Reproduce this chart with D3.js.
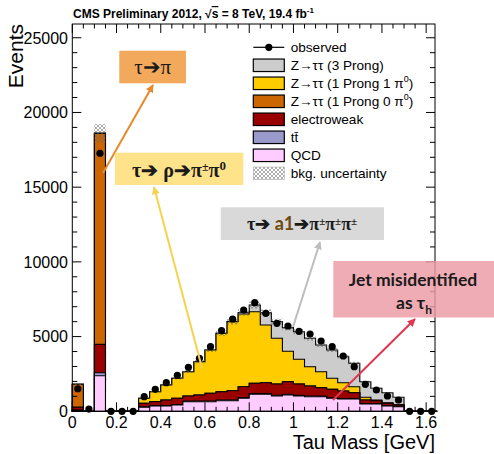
<!DOCTYPE html>
<html><head><meta charset="utf-8">
<script src="https://cdn.jsdelivr.net/npm/d3@7"></script>
<style>body{margin:0;background:#fff}svg{display:block}</style>
</head><body>
<script>
// ---- data ----
const binEdges = [0,0.05,0.1,0.15,0.2,0.25,0.3,0.35,0.4,0.45,0.5,0.55,0.6,0.65,0.7,0.75,0.8,0.85,0.9,0.95,1.0,1.05,1.1,1.15,1.2,1.25,1.3,1.35,1.4,1.45,1.5,1.55,1.6,1.65];
const qcd        = [60,0,2380,0,0,0,267,355,355,420,643,643,643,710,710,870,1138,1138,1024,1091,1024,977,977,870,823,823,489,489,355,308,0,0,0];
const ttbar      = [20,0,200,0,0,0,30,30,35,40,40,45,45,50,50,50,50,50,50,50,45,45,40,40,35,35,25,25,20,20,0,0,0];
const electroweak= [200,0,1900,0,0,0,240,260,366,410,341,403,517,552,619,727,686,726,753,840,758,671,563,562,501,387,242,196,160,92,0,0,0];
const oneProng0  = [1530,0,14120,0,0,0,0,0,0,0,0,0,0,0,0,0,0,0,0,0,0,0,0,0,0,0,0,0,0,0,0,0,0];
const oneProng1  = [0,0,0,0,0,0,333,667,1004,1338,1626,2229,2898,3908,4621,4865,4793,3862,3059,2039,1653,1292,1070,736,555,402,181,50,30,20,0,0,0];
const threeProng = [0,0,0,0,0,0,0,0,0,0,0,0,0,0,0,100,446,824,1114,1580,1848,1901,1788,1895,1741,1566,1044,779,680,497,0,0,0];
const bkgUnc     = [60,0,620,0,0,0,40,50,60,75,90,110,135,170,200,215,235,220,200,185,175,160,145,135,120,105,65,50,40,30,0,0,0];
const observed   = [1510,150,17270,0,0,0,977,1472,1914,2410,2945,3547,4324,5395,6178,6780,7269,6560,5890,5710,5355,5174,4705,4324,3701,2985,1807,1426,1024,756,0,0,0];
const yTicks = [0,5000,10000,15000,20000,25000];
const yTickLabels = ["0","5000","10000","15000","20000","25000"];
const xTicks = [0,0.2,0.4,0.6,0.8,1.0,1.2,1.4,1.6];
const xTickLabels = ["0","0.2","0.4","0.6","0.8","1","1.2","1.4","1.6"];

const W = 494, H = 454;
const svg = d3.select("body").append("svg").attr("width", W).attr("height", H)
  .style("font-family", "'Liberation Sans', Arial, sans-serif");
const L = 72.3, R = 435, T = 24, B = 411.3;
const x = d3.scaleLinear().domain([0, 1.64]).range([L, R]);
const y = d3.scaleLinear().domain([0, 25920]).range([B, T]);

const defs = svg.append("defs");
const hp = defs.append("pattern").attr("id","hatch").attr("patternUnits","userSpaceOnUse").attr("width",4).attr("height",4);
hp.append("path").attr("d","M0,0L4,4M4,0L0,4").attr("stroke","#666").attr("stroke-width",0.55);
function mk(id, col){
  defs.append("marker").attr("id",id).attr("viewBox","0 0 10 10").attr("refX",9).attr("refY",5)
    .attr("markerWidth",4).attr("markerHeight",4).attr("orient","auto-start-reverse")
    .append("path").attr("d","M0,0L10,5L0,10z").attr("fill",col);
}
mk("aO","#E8892A"); mk("aY","#F6D24E"); mk("aG","#BDBDBD"); mk("aR","#E0364F");

// cumulative stacks
const layers = [
  {name:"qcd", vals:qcd, col:"#FFCCFF"},
  {name:"tt", vals:ttbar, col:"#9999CC"},
  {name:"ewk", vals:electroweak, col:"#990000"},
  {name:"p10", vals:oneProng0, col:"#CC6600"},
  {name:"p11", vals:oneProng1, col:"#FFCC00"},
  {name:"p3", vals:threeProng, col:"#CCCCCC"}
];
let cum = qcd.map(() => 0);
layers.forEach(l => { cum = cum.map((c,i) => c + l.vals[i]); l.cum = cum.slice(); });
const total = layers[layers.length-1].cum;

function stepPts(arr){
  const pts = [];
  arr.forEach((v,i) => { pts.push([binEdges[i], v]); pts.push([binEdges[i+1], v]); });
  return pts;
}
const area = d3.area().x(d => x(d[0])).y0(y(0)).y1(d => y(d[1]));
const g = svg.append("g");
layers.slice().reverse().forEach(l => {
  g.append("path").attr("d", area(stepPts(l.cum)))
    .attr("fill", l.col).attr("stroke", "#000").attr("stroke-width", 1.1).attr("stroke-linejoin","miter");
});
// uncertainty hatch
total.forEach((t,i) => {
  if (bkgUnc[i] <= 0) return;
  g.append("rect").attr("x", x(binEdges[i])).attr("width", x(binEdges[i+1]) - x(binEdges[i]))
    .attr("y", y(t + bkgUnc[i])).attr("height", y(t - bkgUnc[i]) - y(t + bkgUnc[i]))
    .attr("fill","url(#hatch)");
});
// observed
observed.forEach((v,i) => {
  const cx = x((binEdges[i] + binEdges[i+1]) / 2);
  const e = Math.sqrt(v);
  if (v > 0) g.append("line").attr("x1",cx).attr("x2",cx).attr("y1",y(v+e)).attr("y2",y(v-e)).attr("stroke","#000").attr("stroke-width",1);
  g.append("circle").attr("cx", cx).attr("cy", y(v)).attr("r", 3.6).attr("fill", "#000");
});

// frame and ticks
const ax = svg.append("g").attr("stroke","#000").attr("stroke-width",1);
ax.append("rect").attr("x",L).attr("y",T).attr("width",R-L).attr("height",B-T).attr("fill","none");
d3.range(0, 26000, 1000).forEach(v => {
  const len = (v % 5000 === 0) ? 9 : 5;
  ax.append("line").attr("x1",L).attr("x2",L+len).attr("y1",y(v)).attr("y2",y(v));
  ax.append("line").attr("x1",R).attr("x2",R-len).attr("y1",y(v)).attr("y2",y(v));
});
d3.range(0, 33).forEach(k => {
  const v = k * 0.05;
  const len = (k % 4 === 0) ? 9 : 4.5;
  ax.append("line").attr("x1",x(v)).attr("x2",x(v)).attr("y1",B).attr("y2",B-len);
  ax.append("line").attr("x1",x(v)).attr("x2",x(v)).attr("y1",T).attr("y2",T+len);
});
yTicks.forEach((v,i) => {
  svg.append("text").attr("x", 68).attr("y", y(v)).attr("dy","0.36em").attr("text-anchor","end")
    .attr("font-size",16).text(yTickLabels[i]);
});
xTicks.forEach((v,i) => {
  svg.append("text").attr("x", x(v)).attr("y", 428).attr("text-anchor","middle")
    .attr("font-size",16).text(xTickLabels[i]);
});
svg.append("text").attr("x", R).attr("y", 449).attr("text-anchor","end").attr("font-size",20).text("Tau Mass [GeV]");
svg.append("text").attr("transform","translate(23,24) rotate(-90)").attr("text-anchor","end").attr("font-size",21).text("Events");

// title
const tt = svg.append("text").attr("x", 73).attr("y", 18).attr("font-size", 12).attr("font-weight","bold");
tt.append("tspan").text("CMS Preliminary 2012, √");
tt.append("tspan").style("text-decoration","overline").text("s");
tt.append("tspan").text(" = 8 TeV, 19.4 fb");
tt.append("tspan").attr("dy",-5).attr("font-size",8).text("-1");

// legend
const leg = svg.append("g");
const lx = 253.3, lw = 31, lh = 12.5, ly0 = 47.3, ldy = 18;
const legItems = [
  {type:"obs", label:["observed"]},
  {col:"#CCCCCC", label:["Z→ττ (3 Prong)"]},
  {col:"#FFCC00", label:["Z→ττ (1 Prong 1 π","0",")"]},
  {col:"#CC6600", label:["Z→ττ (1 Prong 0  π","0",")"]},
  {col:"#990000", label:["electroweak"]},
  {col:"#9999CC", label:["tt̄"]},
  {col:"#FFCCFF", label:["QCD"]},
  {col:"url(#hatch)", label:["bkg. uncertainty"], noStroke:true}
];
legItems.forEach((it,i) => {
  const cy = ly0 + i*ldy;
  if (it.type === "obs") {
    leg.append("line").attr("x1",lx).attr("x2",lx+lw).attr("y1",cy).attr("y2",cy).attr("stroke","#000").attr("stroke-width",1.2);
    leg.append("circle").attr("cx",lx+lw/2).attr("cy",cy).attr("r",3.6).attr("fill","#000");
  } else {
    leg.append("rect").attr("x",lx).attr("y",cy-lh/2).attr("width",lw).attr("height",lh)
      .attr("fill",it.col).attr("stroke", it.noStroke ? "#aaa" : "#000").attr("stroke-width", it.noStroke ? 0.6 : 1.2);
  }
  const t = leg.append("text").attr("x", 290.7).attr("y", cy).attr("dy","0.36em").attr("font-size",13.6);
  t.append("tspan").text(it.label[0]);
  if (it.label.length > 1) {
    t.append("tspan").attr("dy",-6).attr("font-size",9).text(it.label[1]);
    t.append("tspan").attr("dy",6).text(it.label[2]);
  }
});

// annotations
const ann = svg.append("g");
function arrow(x1,y1,x2,y2,col,mid){
  ann.append("line").attr("x1",x1).attr("y1",y1).attr("x2",x2).attr("y2",y2)
    .attr("stroke",col).attr("stroke-width",2).attr("marker-end","url(#"+mid+")");
}
arrow(103,173,153,85,"#E8892A","aO");
arrow(202,368,154,187,"#F6D24E","aY");
arrow(293,327,320,242,"#BDBDBD","aG");
arrow(333,400,415,319,"#E0364F","aR");

ann.append("rect").attr("x",119.3).attr("y",50.7).attr("width",66.7).attr("height",32.6).attr("fill","#F2A95C");
ann.append("text").attr("x",152.7).attr("y",74).attr("text-anchor","middle").attr("font-size",21)
  .attr("font-family","'Liberation Serif','DejaVu Serif',serif").attr("fill","#1a1a1a").text("τ➔π");

ann.append("rect").attr("x",115).attr("y",152.7).attr("width",128.3).attr("height",32.3).attr("fill","#FFE38A");
const t2 = ann.append("text").attr("x",179).attr("y",177).attr("text-anchor","middle").attr("font-size",20)
  .attr("font-weight","bold").attr("font-family","'Liberation Serif','DejaVu Serif',serif").attr("fill","#1a1a1a");
t2.append("tspan").text("τ➔ ρ➔π");
t2.append("tspan").attr("font-size",12).attr("dy",-6).text("±");
t2.append("tspan").attr("font-size",20).attr("dy",6).text("π");
t2.append("tspan").attr("font-size",13).attr("dy",-7).text("0");

ann.append("rect").attr("x",220.7).attr("y",207.3).attr("width",163.3).attr("height",32.7).attr("fill","#D9D9D9");
const t3 = ann.append("text").attr("x",302).attr("y",230).attr("text-anchor","middle").attr("font-size",18)
  .attr("font-weight","bold").attr("font-family","'Liberation Serif','DejaVu Serif',serif").attr("fill","#1a1a1a");
t3.append("tspan").text("τ➔ ");
t3.append("tspan").attr("fill","#6B4A10").attr("font-family","Lato, sans-serif").text("a1");
t3.append("tspan").text("➔π");
t3.append("tspan").attr("font-size",11).attr("dy",-5).text("±");
t3.append("tspan").attr("font-size",18).attr("dy",5).text("π");
t3.append("tspan").attr("font-size",11).attr("dy",-5).text("±");
t3.append("tspan").attr("font-size",18).attr("dy",5).text("π");
t3.append("tspan").attr("font-size",11).attr("dy",-5).text("±");

ann.append("rect").attr("x",333.3).attr("y",261).attr("width",161).attr("height",56.5).attr("fill","#EC9AA5").attr("fill-opacity",0.82);
ann.append("text").attr("x",413).attr("y",286).attr("text-anchor","middle").attr("font-size",17.5)
  .attr("font-weight","bold").attr("font-family","Lato, sans-serif").attr("fill","#1a1a1a").text("Jet misidentified");
const t4 = ann.append("text").attr("x",396).attr("y",309).attr("font-size",17.5)
  .attr("font-weight","bold").attr("font-family","Lato, sans-serif").attr("fill","#1a1a1a");
t4.append("tspan").text("as τ");
t4.append("tspan").attr("font-size",12).attr("dy",5).text("h");
</script>
</body></html>
